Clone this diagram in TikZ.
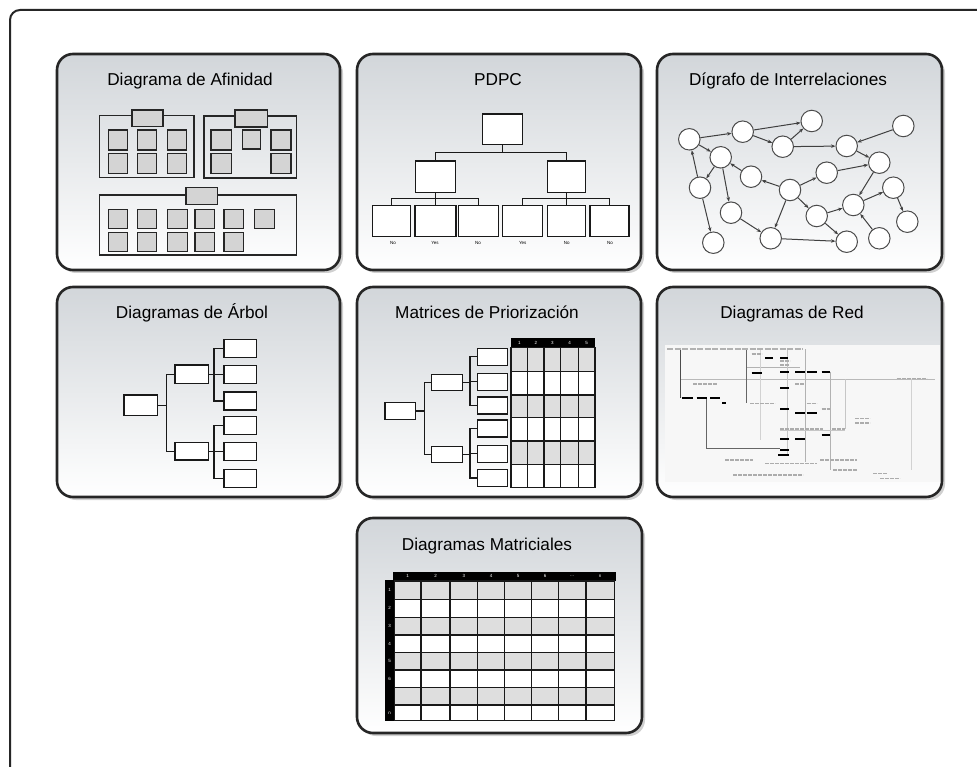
\documentclass[tikz,border=0pt]{standalone}
\usepackage{fontspec}
\setmainfont{Liberation Sans}
\usetikzlibrary{arrows.meta}
\definecolor{pTop}{RGB}{210,214,218}
\definecolor{boxg}{RGB}{212,212,212}
\definecolor{rowg}{RGB}{222,222,222}
\begin{document}
\begin{tikzpicture}[x=1pt,y=-1pt,
  panel/.style={draw=black!85,line width=2.6pt,rounded corners=16pt,top color=pTop,bottom color=white},
  pshadow/.style={fill=black!60,opacity=.3,rounded corners=16pt},
  ttl/.style={anchor=base,inner sep=0pt,font=\fontsize{17.2}{20}\selectfont},
  gbox/.style={draw=black!85,line width=1.2pt,fill=boxg},
  grp/.style={draw=black!85,line width=1.2pt},
  wbox/.style={draw=black!90,line width=1.4pt,fill=white,inner sep=0pt},
  conn/.style={draw=black!90,line width=1.4pt},
  cnode/.style={circle,draw=black!70,line width=1pt,fill=white,minimum size=21.5pt,inner sep=0pt},
  arr/.style={draw=black!75,line width=1pt,-{Stealth[length=4.5pt,width=3.5pt]}},
  tiny/.style={font=\fontsize{4.5}{5}\selectfont,inner sep=0pt},
  wtiny/.style={font=\fontsize{4.5}{5}\selectfont,inner sep=0pt,text=white},
  grid/.style={draw=black!90,line width=1.2pt},
]
\useasboundingbox (0,0) rectangle (977,767);
\clip (0,0) rectangle (977,767);
\fill[white] (0,0) rectangle (977,767);
\draw[line width=2pt,black!85,rounded corners=10pt] (10,10) rectangle (1010,800);

% panels
\foreach \a/\b/\c/\d in {57/54/340/270, 357/54/641/270, 657/54/942/270, 57/287/340/497, 357/287/641/497, 657/287/942/497, 357/518/642/733}{
  \fill[pshadow,xshift=3pt,yshift=-3pt] (\a,\b) rectangle (\c,\d);
  \draw[panel] (\a,\b) rectangle (\c,\d);
}

% titles
\node[ttl] (t1) at (190,86) {Diagrama de Afinidad};
\node[ttl] (t2) at (498,86) {PDPC};
\node[ttl] (t3) at (788,86) {Dígrafo de Interrelaciones};
\node[ttl] (t4) at (192,318) {Diagramas de Árbol};
\node[ttl] (t5) at (487,318) {Matrices de Priorización};
\node[ttl] (t6) at (792,318) {Diagramas de Red};
\node[ttl] (t7) at (487,550) {Diagramas Matriciales};

% ---------- Diagrama de Afinidad
\draw[grp] (99.3,115.7) rectangle (194,177.7);
\draw[gbox] (132,110) rectangle (163,126.7);
\foreach \x in {108.3,137.3,167.7} \foreach \y in {130,153.3} \draw[gbox] (\x,\y) rectangle ++(19,20);
\draw[grp] (204,116) rectangle (296.7,178);
\draw[gbox] (235,110) rectangle (267.3,127);
\draw[gbox] (211,130) rectangle ++(20.7,20);
\draw[gbox] (242.3,130) rectangle ++(18.4,19);
\draw[gbox] (271,130) rectangle ++(20,20);
\draw[gbox] (211,153.3) rectangle ++(20.7,20);
\draw[gbox] (271,153.3) rectangle ++(20,20);
\draw[grp] (99.3,195) rectangle (296.7,255);
\draw[gbox] (186,187.3) rectangle (217.3,204.3);
\foreach \x in {108.3,137.3,167.7,195,224,254.7} \draw[gbox] (\x,209.3) rectangle ++(19.5,19);
\foreach \x in {108.3,137.3,167.7,195,224} \draw[gbox] (\x,232.7) rectangle ++(19.5,19);

% ---------- PDPC
\node[wbox,minimum width=39.6pt,minimum height=30.3pt] (p0) at (502.5,129.2) {};
\node[wbox,minimum width=40.4pt,minimum height=31.3pt] (pl) at (435.5,176.7) {};
\node[wbox,minimum width=38.4pt,minimum height=31.3pt] (pr) at (566.5,176.7) {};
\node[wbox,minimum width=38.4pt,minimum height=31pt] (b1) at (391.5,221.2) {};
\node[wbox,minimum width=40.7pt,minimum height=31pt] (b2) at (435.5,221.2) {};
\node[wbox,minimum width=40pt,minimum height=31pt] (b3) at (478.3,221.2) {};
\node[wbox,minimum width=40pt,minimum height=31pt] (b4) at (522.3,221.2) {};
\node[wbox,minimum width=38.4pt,minimum height=31pt] (b5) at (566.5,221.2) {};
\node[wbox,minimum width=39pt,minimum height=31pt] (b6) at (609.5,221.2) {};
\draw[conn] (p0.south) -- ++(0,7.4) coordinate (pj);
\draw[conn] (pl.north) |- (pj) -| (pr.north);
\draw[conn] (pl.south) -- (b2.north);
\draw[conn] (pr.south) -- (b5.north);
\draw[conn] (b1.north) -- ++(0,-6.7) -| (b3.north);
\draw[conn] (b4.north) -- ++(0,-6.7) -| (b6.north);
\node[tiny] (n1) at (393,243.3) {No};
\node[tiny] (n2) at (435,243.3) {Yes};
\node[tiny] (n3) at (478,243.3) {No};
\node[tiny] (n4) at (522.7,243.3) {Yes};
\node[tiny] (n5) at (566.7,243.3) {No};
\node[tiny] (n6) at (610,243.3) {No};

% ---------- Digrafo
\foreach \n/\x/\y in {1/811.7/121, 2/742.7/131.7, 3/689.3/139.3, 4/782.7/146.7, 5/846.7/146, 6/903.3/126,
  7/720.7/157.3, 8/879.3/162.7, 9/751/176.7, 10/826.7/172.7, 11/700/187.7, 12/790/190, 13/893.3/187.7,
  14/731/212.7, 15/853.3/205, 16/816.7/216, 17/907.3/221.7, 18/770.7/238.3, 19/713.3/242.7, 20/846.7/241.7, 21/879.3/238.3}
  \node[cnode] (c\n) at (\x,\y) {};
\foreach \a/\b in {3/2, 2/1, 2/4, 4/1, 4/5, 6/5, 3/7, 11/3, 7/11, 5/8, 9/7, 12/9, 12/10, 10/8, 7/14, 11/19,
  14/18, 12/18, 18/20, 12/16, 16/15, 8/15, 15/13, 13/17, 21/15, 16/20}
  \draw[arr] (c\a) -- (c\b);

% ---------- Diagramas de Arbol
\node[wbox,minimum width=33.3pt,minimum height=20.7pt] (a0) at (140.7,405.3) {};
\node[wbox,minimum width=33.3pt,minimum height=18.3pt] (a1) at (191.7,374.2) {};
\node[wbox,minimum width=33.3pt,minimum height=17.7pt] (a2) at (191.7,451.2) {};
\foreach \i/\y in {1/348.5, 2/374.2, 3/400.8, 4/425.3, 5/451.5, 6/478.3}
  \node[wbox,minimum width=32.7pt,minimum height=18pt] (l\i) at (240.3,\y) {};
\draw[conn] (a0.east) -- ++(8.7,0) coordinate (aj);
\draw[conn] (a1.west) -| (aj);
\draw[conn] (a2.west) -| (aj);
\draw[conn] (a1.east) -- ++(5,0) coordinate (aj1);
\draw[conn] (a2.east) -- ++(5,0) coordinate (aj2);
\foreach \i in {1,2,3} \draw[conn] (l\i.west) -| (aj1);
\foreach \i in {4,5,6} \draw[conn] (l\i.west) -| (aj2);

% ---------- Matrices de Priorizacion
\node[wbox,minimum width=30.7pt,minimum height=17pt] (m0) at (400.3,410.8) {};
\node[wbox,minimum width=31pt,minimum height=16pt] (m1) at (447.2,382.3) {};
\node[wbox,minimum width=31pt,minimum height=15.6pt] (m2) at (447.2,454.5) {};
\foreach \i/\y in {1/356.7, 2/381.7, 3/405.3, 4/428.3, 5/453.7, 6/477.8}
  \node[wbox,minimum width=29.6pt,minimum height=17pt] (k\i) at (492.5,\y) {};
\draw[conn] (m0.east) -- ++(8,0) coordinate (mj);
\draw[conn] (m1.west) -| (mj);
\draw[conn] (m2.west) -| (mj);
\draw[conn] (m1.east) -- ++(6.6,0) coordinate (mj1);
\draw[conn] (m2.east) -- ++(6.6,0) coordinate (mj2);
\foreach \i in {1,2,3} \draw[conn] (k\i.west) -| (mj1);
\foreach \i in {4,5,6} \draw[conn] (k\i.west) -| (mj2);
\fill[black] (511,337.7) rectangle (595,347.7);
\foreach \a/\b in {347.7/371.7, 395/417.7, 441/464.3} \fill[rowg] (511,\a) rectangle (595,\b);
\foreach \a/\b in {371.7/395, 417.7/441, 464.3/487.3} \fill[white] (511,\a) rectangle (595,\b);
\draw[grid] (511,347.7) rectangle (595,487.3);
\foreach \x in {527.7,544,560.7,578.3} \draw[grid] (\x,347.7) -- (\x,487.3);
\foreach \y in {371.7,395,417.7,441,464.3} \draw[grid] (511,\y) -- (595,\y);
\foreach \t/\x in {1/519.3, 2/535.8, 3/552.3, 4/569.5, 5/586.7} \node[wtiny] at (\x,342.7) {\t};

% ---------- Diagramas de Red
\fill[gray!6] (665,345) rectangle (940,482);
\begin{scope}[line width=0.6pt]
  \draw[gray!55] (680,379) -- (935,379);
  \draw[gray!60] (746.7,367) -- (800,367);
  \draw[black!70,line width=1pt] (680,349) -- (680,398.3);
  \draw[black!60] (746.7,349) -- (746.7,403);
  \draw[black!60] (706,398.3) -- (706,448.3) -- (780,448.3);
  \draw[gray!60] (805,349) -- (805,461.7);
  \draw[gray!60] (830,372) -- (830,470);
  \draw[gray!45] (845,379) -- (845,429);
  \draw[gray!45] (787,350) -- (787,455);
  \draw[gray!45] (780,430) -- (845,430);
  \draw[gray!35] (911.7,379) -- (911.7,470);
  \draw[gray!35] (760,350) -- (760,440);
\end{scope}
\draw[gray!60,line width=1.3pt,dash pattern=on 6pt off 1.5pt] (667,349) -- (803,349);
\foreach \a/\b/\y in {765/773/357.7, 780/788/357.7, 751.7/761.7/372.7, 780/789.3/372.3, 795/805/372.3,
  806.7/816.7/372.3, 821.7/830/372.3, 780/789.3/388.3, 681.7/693.3/398.3, 696.7/706.7/398.3, 710/720/398.3,
  780/789.3/409, 795/805/413.3, 806.7/816.7/413.3, 821.7/830/435, 780/789.3/439, 795/805/439,
  780/789.3/450, 778/789.3/455, 722/726/403.3}
  \draw[black,line width=1.8pt] (\a,\y) -- (\b,\y);
\foreach \a/\b/\y in {693/716.7/384, 780/789/365, 795/805/384, 750/775/403.3, 806.7/816.7/403.3, 821.7/830/409,
  780/823/429, 832/845/429, 855/870/418.3, 855/870/423, 896.7/926.7/378.3, 725/753/460, 765/816.7/463.3,
  820/857/460, 833/857/470, 733/803/475, 873/887/473.3, 880/900/478.3, 751.7/761.7/354, 780/790/361}
  \draw[gray!65,line width=1.2pt,dash pattern=on 4pt off 1pt] (\a,\y) -- (\b,\y);

% ---------- Diagramas Matriciales
\fill[black] (393.3,571.7) rectangle (615.7,581);
\fill[black] (385,580) rectangle (394.3,720.7);
\foreach \a/\b in {581/599.3, 617.3/635, 652.7/670, 687.7/705} \fill[rowg] (394.3,\a) rectangle (614.3,\b);
\foreach \a/\b in {599.3/617.3, 635/652.7, 670/687.7, 705/720.7} \fill[white] (394.3,\a) rectangle (614.3,\b);
\draw[grid] (394.3,581) rectangle (614.3,720.7);
\foreach \x in {421,450,477.7,504.3,531.7,558.3,586} \draw[grid] (\x,581) -- (\x,720.7);
\foreach \y in {599.3,617.3,635,652.7,670,687.7,705} \draw[grid] (394.3,\y) -- (614.3,\y);
\foreach \t/\x in {1/407.7, 2/435.5, 3/463.8, 4/491, 5/518, 6/545, \ldots/572.2, n/600.2} \node[wtiny] at (\x,576.3) {\t};
\foreach \t/\y in {1/590.2, 2/608.3, 3/626.2, 4/643.8, 5/661.3, 6/678.8, n/712.8} \node[wtiny] at (389.7,\y) {\t};
\end{tikzpicture}
\end{document}
